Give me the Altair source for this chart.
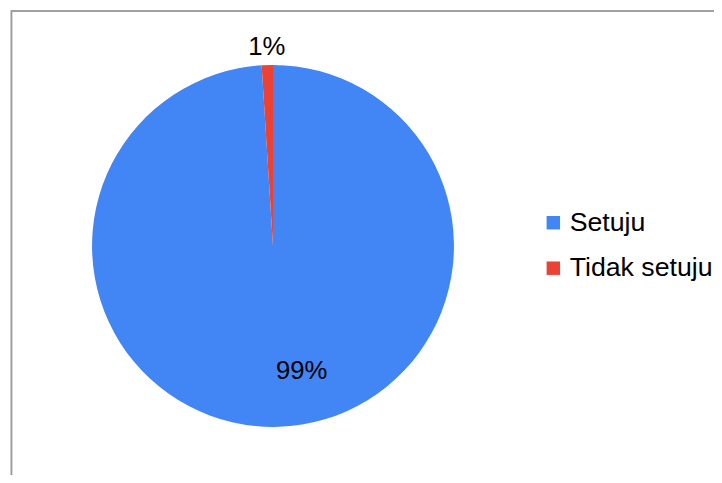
import altair as alt
import pandas as pd

categories = ["Setuju", "Tidak setuju"]
values = [99, 1]
labels = ["99%", "1%"]
order = [0, 1]
colors = ["#4285F4", "#EA4335"]

df = pd.DataFrame({"kategori": categories, "nilai": values, "label": labels, "urut": order})

FONT = "Liberation Sans"
CX, CY, R = 268, 238, 183

color = alt.Color(
    "kategori:N",
    scale=alt.Scale(domain=categories, range=colors),
    legend=alt.Legend(
        title=None,
        orient="none",
        legendX=538,
        legendY=201,
        symbolType="square",
        symbolSize=185,
        symbolStrokeWidth=0,
        labelFont=FONT,
        labelFontSize=27,
        labelColor="#000000",
        labelOffset=3,
        rowPadding=18,
    ),
)

theta_scale = alt.Scale(domain=[0, 100])

pie = alt.Chart(df).mark_arc(radius=R, stroke=None).encode(
    theta=alt.Theta("nilai:Q", stack=True, scale=theta_scale),
    order=alt.Order("urut:Q"),
    color=color,
    x=alt.value(CX),
    y=alt.value(CY),
)

stacked = alt.Chart(df).transform_stack(
    stack="nilai", as_=["s0", "s1"], groupby=[], sort=[alt.SortField("urut")]
).transform_calculate(mid="(datum.s0 + datum.s1) / 2")

frame = alt.Chart(df).mark_rect(fill=None, stroke="#9a9a9a", strokeWidth=1.5).encode(
    x=alt.value(3.5), x2=alt.value(800), y=alt.value(0.5), y2=alt.value(800)
)

lab_small = stacked.transform_filter(alt.datum.kategori == "Tidak setuju").mark_text(
    radius=201, font=FONT, fontSize=26, color="#000000"
).encode(
    theta=alt.Theta("mid:Q", stack=None, scale=theta_scale),
    text="label:N",
    x=alt.value(CX),
    y=alt.value(CY),
)

lab_big = stacked.transform_filter(alt.datum.kategori == "Setuju").mark_text(
    radius=130, font=FONT, fontSize=26, color="#000000", dx=25, dy=-3
).encode(
    theta=alt.Theta("mid:Q", stack=None, scale=theta_scale),
    text="label:N",
    x=alt.value(CX),
    y=alt.value(CY),
)

chart = alt.layer(frame, pie, lab_small, lab_big).properties(
    width=714,
    height=467,
    padding=0,
    autosize=alt.AutoSizeParams(type="none"),
    background="#ffffff",
).configure_view(stroke=None)

chart.save("out.html", embed_options={"renderer": "svg", "actions": False})
